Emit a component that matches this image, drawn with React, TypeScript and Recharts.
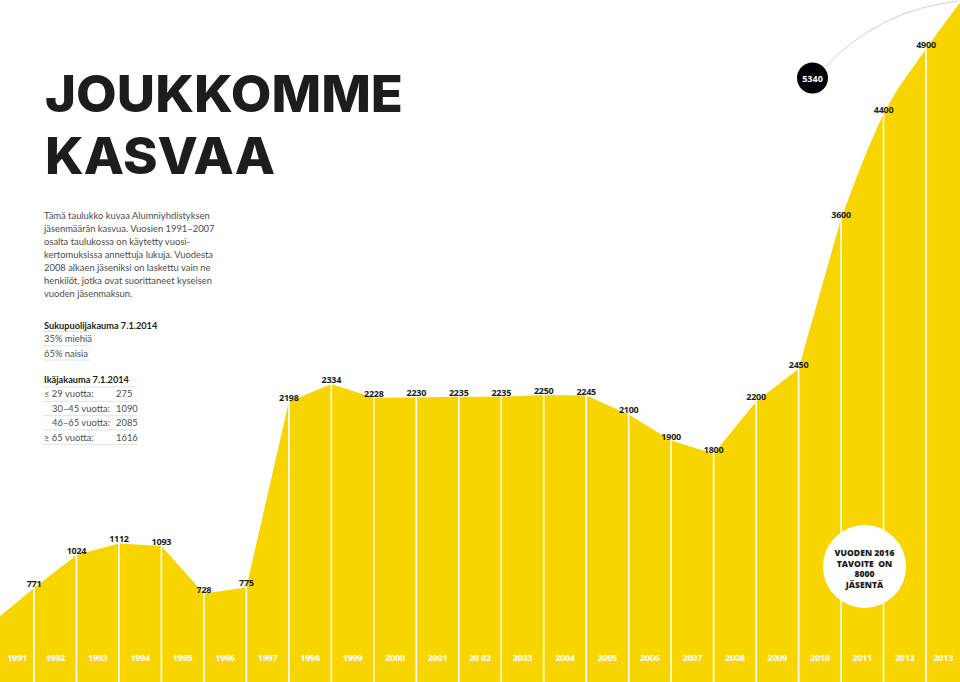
import React from 'react';
import { AreaChart, Area, XAxis, YAxis } from 'recharts';

// ---- data ----
const YEARS = [1990, 1991, 1992, 1993, 1994, 1995, 1996, 1997, 1998, 1999, 2000, 2001, 2002, 2003, 2004, 2005, 2006, 2007, 2008, 2009, 2010, 2011, 2012, 2013];
const MEMBERS = [500, 771, 1024, 1112, 1093, 728, 775, 2198, 2334, 2228, 2230, 2235, 2235, 2250, 2245, 2100, 1900, 1800, 2200, 2450, 3600, 4400, 4900, 5340];
const LABELLED_FROM = 1991;
const LABELLED_TO = 2012;
const CURVE_FROM = 2010;
const YEAR_LABELS = ['1991', '1992', '1993', '1994', '1995', '1996', '1997', '1998', '1999', '2000', '2001', '20 02', '2003', '2004', '2005', '2006', '2007', '2008', '2009', '2010', '2011', '2012', '2013'];
const LABEL_YEARS = [1991, 1992, 1993, 1994, 1995, 1996, 1997, 1998, 1999, 2000, 2001, 2002, 2003, 2004, 2005, 2006, 2007, 2008, 2009, 2010, 2011, 2012, 2013];

const TITLE_LINES = ['JOUKKOMME', 'KASVAA'];
const DESCRIPTION = [
  'Tämä taulukko kuvaa Alumniyhdistyksen',
  'jäsenmäärän kasvua. Vuosien 1991–2007',
  'osalta taulukossa on käytetty vuosi-',
  'kertomuksissa annettuja lukuja. Vuodesta',
  '2008 alkaen jäseniksi on laskettu vain ne',
  'henkilöt, jotka ovat suorittaneet kyseisen',
  'vuoden jäsenmaksun.',
];
const GENDER_TITLE = 'Sukupuolijakauma 7.1.2014';
const GENDER_ROWS = ['35% miehiä', '65% naisia'];
const AGE_TITLE = 'Ikäjakauma 7.1.2014';
const AGE_LABELS = ['≤ 29 vuotta:', '30–45 vuotta:', '46–65 vuotta:', '≥ 65 vuotta:'];
const AGE_VALUES = ['275', '1090', '2085', '1616'];
const AGE_INDENT = [false, true, true, false];
const LATEST_VALUE = '5340';
const GOAL_LINES = ['VUODEN 2016', 'TAVOITE  ON', '8000', 'JÄSENTÄ'];

const rows = YEARS.map((year, i) => ({
  year,
  members: MEMBERS[i],
  curve: year >= CURVE_FROM ? MEMBERS[i] : null,
}));
const yearTicks = LABEL_YEARS.map((y) => y - 0.5);

// ---- styles ----
const YELLOW = '#F9D500';
const W = 960;
const H = 682;
const X_DOMAIN: [number, number] = [1990.2, 2012.8];
const Y_DOMAIN: [number, number] = [50.6, 5275];
const FONT = 'Lato, "Open Sans", sans-serif';
const NUM_FONT = '"Open Sans", Lato, sans-serif';

const renderDot = (props: any) => {
  const { cx, cy, payload, index } = props;
  const key = `dot-${index}`;
  if (!payload || payload.year < LABELLED_FROM || payload.year > LABELLED_TO) return <g key={key} />;
  return (
    <g key={key}>
      <line x1={cx} y1={cy} x2={cx} y2={cy + 1000} stroke="#ffffff" strokeWidth={1.6} />
      <text
        x={cx}
        y={cy - 4.5}
        textAnchor="middle"
        dominantBaseline="central"
        fontFamily={NUM_FONT}
        fontWeight={700}
        fontSize={9}
        letterSpacing={-0.25}
        fill="#1d1d1b"
      >
        {payload.members}
      </text>
    </g>
  );
};

const YearTick = (props: any) => {
  const { x, y, index } = props;
  const nudge = index === 0 ? 4.5 : index === YEAR_LABELS.length - 1 ? -4 : 0;
  return (
    <text
      x={x + nudge}
      y={y - 25}
      textAnchor="middle"
      dominantBaseline="central"
      fontFamily={NUM_FONT}
      fontWeight={700}
      fontSize={9}
      letterSpacing={-0.25}
      fill="#ffffff"
    >
      {YEAR_LABELS[index]}
    </text>
  );
};

export default function App() {
  return (
    <div style={{ position: 'absolute', left: 0, top: 0, width: W, height: H, background: '#fff', overflow: 'hidden' }}>
      <div style={{ position: 'absolute', left: 0, top: 0 }}>
        <AreaChart width={W} height={H} data={rows} margin={{ top: 0, right: 0, bottom: 0, left: 0 }}>
          <XAxis dataKey="year" type="number" domain={X_DOMAIN} allowDataOverflow hide height={0} />
          <YAxis type="number" domain={Y_DOMAIN} allowDataOverflow hide width={0} />
          <Area
            type="monotone"
            dataKey="curve"
            stroke="none"
            fill={YELLOW}
            fillOpacity={1}
            isAnimationActive={false}
            dot={false}
            activeDot={false}
          />
          <Area
            type="linear"
            dataKey="members"
            stroke="none"
            fill={YELLOW}
            fillOpacity={1}
            isAnimationActive={false}
            dot={renderDot}
            activeDot={false}
          />
        </AreaChart>
      </div>
      {/* year labels: same x scale, drawn on top of the filled area */}
      <div style={{ position: 'absolute', left: 0, top: 0, pointerEvents: 'none' }}>
        <AreaChart width={W} height={H + 2} data={rows} margin={{ top: 0, right: 0, bottom: 0, left: 0 }}>
          <XAxis
            dataKey="year"
            type="number"
            domain={X_DOMAIN}
            allowDataOverflow
            ticks={yearTicks}
            interval={0}
            height={2}
            tickSize={0}
            tickMargin={0}
            axisLine={false}
            tickLine={false}
            tick={<YearTick />}
          />
          <YAxis type="number" domain={Y_DOMAIN} allowDataOverflow hide width={0} />
          <Area
            type="linear"
            dataKey="members"
            stroke="none"
            fill="none"
            fillOpacity={0}
            isAnimationActive={false}
            dot={false}
            activeDot={false}
          />
        </AreaChart>
      </div>
      <svg width={W} height={H} style={{ position: 'absolute', left: 0, top: 0, pointerEvents: 'none' }}>
        {/* title */}
        {TITLE_LINES.map((t, i) => (
          <text
            key={t}
            x={45}
            y={112 + i * 62}
            fontFamily='Inter, "Open Sans", sans-serif'
            fontWeight={800}
            fontSize={51}
            fill="#1d1d1b"
            textLength={i === 0 ? 358 : 230}
            lengthAdjust="spacingAndGlyphs"
          >
            {t}
          </text>
        ))}
        {/* description */}
        {DESCRIPTION.map((line, i) => (
          <text key={i} x={44} y={215 + i * 13} dominantBaseline="central" fontFamily={FONT} fontSize={9.4} fill="#4d4d4d">
            {line}
          </text>
        ))}
        {/* gender */}
        <text x={44} y={325} dominantBaseline="central" fontFamily={FONT} fontWeight={700} fontSize={9.2} fill="#1d1d1b">
          {GENDER_TITLE}
        </text>
        {[331.5, 345.7, 360].map((y) => (
          <line key={`g${y}`} x1={43} x2={90} y1={y} y2={y} stroke="#d9d9d9" strokeWidth={0.8} />
        ))}
        {GENDER_ROWS.map((r, i) => (
          <text key={r} x={44} y={338.7 + i * 14.3} dominantBaseline="central" fontFamily={FONT} fontSize={9.4} fill="#4d4d4d">
            {r}
          </text>
        ))}
        {/* age */}
        <text x={44} y={379} dominantBaseline="central" fontFamily={FONT} fontWeight={700} fontSize={9.2} fill="#1d1d1b">
          {AGE_TITLE}
        </text>
        {[387, 401.3, 415.7, 430, 444.3].map((y) => (
          <line key={`a${y}`} x1={43} x2={137} y1={y} y2={y} stroke="#d9d9d9" strokeWidth={0.8} />
        ))}
        {AGE_LABELS.map((r, i) => (
          <g key={r}>
            <text x={AGE_INDENT[i] ? 52 : 44} y={393.5 + i * 14.5} dominantBaseline="central" fontFamily={FONT} fontSize={9.4} fill="#4d4d4d">
              {r}
            </text>
            <text x={116} y={393.5 + i * 14.5} dominantBaseline="central" fontFamily={FONT} fontSize={9.4} fill="#4d4d4d">
              {AGE_VALUES[i]}
            </text>
          </g>
        ))}
        {/* latest value callout */}
        <path d="M 826 66 Q 880 10 958 1" fill="none" stroke="#cfcfcf" strokeWidth={1} />
        <circle cx={812.5} cy={78} r={15.5} fill="#000000" />
        <text x={812.5} y={78} textAnchor="middle" dominantBaseline="central" fontFamily={NUM_FONT} fontWeight={700} fontSize={9} fill="#ffffff">
          {LATEST_VALUE}
        </text>
        {/* goal circle */}
        <circle cx={864.5} cy={566.5} r={41.5} fill="#ffffff" />
        {GOAL_LINES.map((l, i) => (
          <text
            key={l}
            x={864.5}
            y={552.7 + i * 10.8}
            textAnchor="middle"
            dominantBaseline="central"
            fontFamily={NUM_FONT}
            fontWeight={800}
            fontSize={8.6}
            fill="#1d1d1b"
            style={{ whiteSpace: 'pre' }}
          >
            {l}
          </text>
        ))}
      </svg>
    </div>
  );
}
